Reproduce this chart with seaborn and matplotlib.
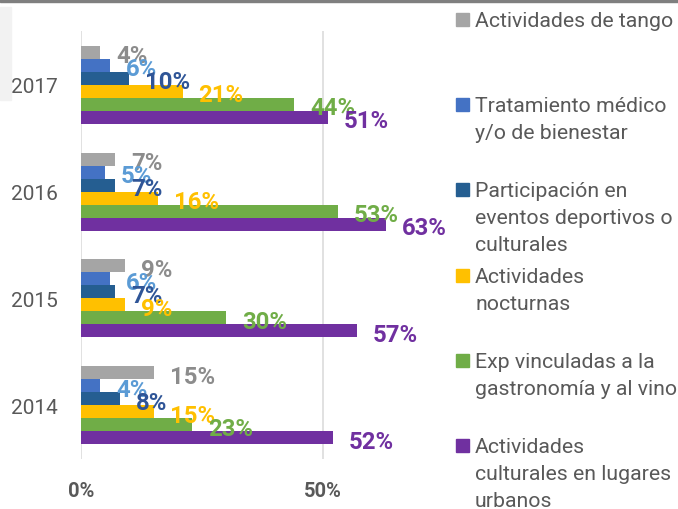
import pandas as pd
import matplotlib.pyplot as plt
import seaborn as sns
from matplotlib.patches import Rectangle

# data
years = ['2017', '2016', '2015', '2014']
categories = [
    'Actividades de tango',
    'Tratamiento médico\ny/o de bienestar',
    'Participación en\neventos deportivos o\nculturales',
    'Actividades\nnocturnas',
    'Exp vinculadas a la\ngastronomía y al vino',
    'Actividades\nculturales en lugares\nurbanos',
]
tango = [4, 7, 9, 15]
medico = [6, 5, 6, 4]
deportivos = [10, 7, 7, 8]
nocturnas = [21, 16, 9, 15]
gastro = [44, 53, 30, 23]
urbanos = [51, 63, 57, 52]
x_ticks = [0, 50]
x_tick_labels = ['0%', '50%']

bar_colors = ['#A5A5A5', '#4472C4', '#255E91', '#FFC000', '#70AD47', '#7030A0']
label_colors = ['#8C8C8C', '#5B9BD5', '#2F5597', '#FFC000', '#70AD47', '#7030A0']
text_gray = '#595959'

series = [tango, medico, deportivos, nocturnas, gastro, urbanos]
df = pd.DataFrame({
    'year': years * len(categories),
    'category': [c for c in categories for _ in years],
    'value': [v for s in series for v in s],
})

sns.set_theme(style='white')
plt.rcParams['font.family'] = ['Roboto', 'DejaVu Sans']

W, H = 678, 510
fig = plt.figure(figsize=(W / 100, H / 100), dpi=100)
ax = fig.add_axes([81 / W, 1 - 459.6 / H, 363 / W, 427.2 / H])

sns.barplot(
    data=df, x='value', y='year', hue='category',
    order=years, hue_order=categories, palette=bar_colors,
    orient='h', width=0.73, saturation=1, errorbar=None,
    linewidth=0, legend=False, ax=ax,
)

# value labels to the right of each bar
for i, container in enumerate(ax.containers):
    for bar in container:
        ax.annotate(
            f'{bar.get_width():.0f}%',
            xy=(bar.get_width(), bar.get_y() + bar.get_height() / 2),
            xytext=(11.5, -2.5), textcoords='offset points',
            ha='left', va='center', fontsize=17.2, fontweight='bold',
            color=label_colors[i],
        )

ax.set_xlim(0, 75)
ax.set_xticks(x_ticks, x_tick_labels)
ax.set_xlabel('')
ax.set_ylabel('')
sns.despine(ax=ax, left=True, bottom=True)
ax.grid(True, axis='x', color='#D9D9D9', lw=1.1)
ax.set_axisbelow(True)
ax.tick_params(axis='x', length=0, pad=16, labelsize=14.5, labelcolor=text_gray)
ax.tick_params(axis='y', length=0, pad=16.5, labelsize=15, labelcolor=text_gray)
for t in ax.get_xticklabels():
    t.set_fontweight('bold')

# legend on the right, entries evenly spaced like the original
for i, cat in enumerate(categories):
    base = 26.7 + 85.3 * i
    fig.patches.append(Rectangle((456 / W, 1 - base / H), 13 / W, 13 / H,
                                 transform=fig.transFigure, color=bar_colors[i]))
    for j, line in enumerate(cat.split('\n')):
        fig.text(475 / W, 1 - (base + 27 * j) / H, line, ha='left', va='baseline',
                 fontsize=15.3, color=text_gray)

# frame decorations
fig.patches.append(Rectangle((0, 1 - 2.7 / H), 1, 2.7 / H,
                             transform=fig.transFigure, color='#7F7F7F'))
fig.patches.append(Rectangle((0, 1 - 101 / H), 11 / W, 93 / H,
                             transform=fig.transFigure, color='#F2F2F2'))

fig.savefig('out.png', dpi=100)
